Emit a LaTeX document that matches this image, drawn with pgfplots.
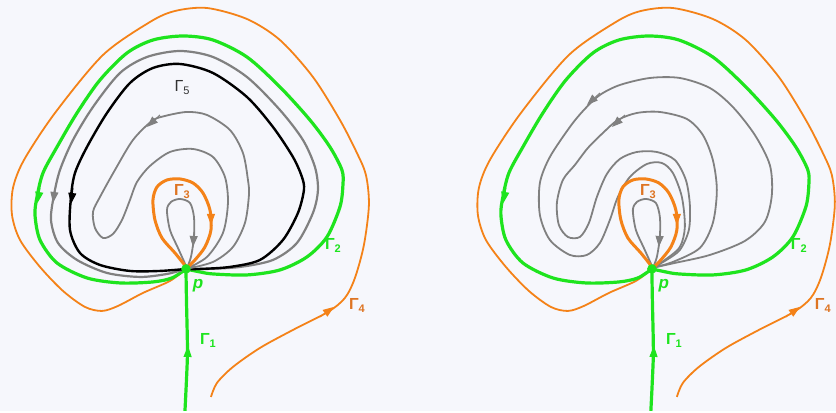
\documentclass[border=0pt]{standalone}
\usepackage{fontspec}
\setmainfont{Liberation Sans}
\usepackage{pgfplots}
\pgfplotsset{compat=1.18}
\usepackage{pgfplotstable}
\usetikzlibrary{arrows.meta}
\definecolor{bg}{RGB}{246,247,252}
\definecolor{gG}{RGB}{30,228,30}
\definecolor{oO}{RGB}{244,130,24}
\definecolor{oL}{RGB}{222,116,34}
\definecolor{gR}{RGB}{128,128,128}
\definecolor{dk}{RGB}{50,50,50}
\newcommand{\lab}[2]{#1\raisebox{-3pt}{\fontsize{11}{11}\selectfont #2}}

% Gamma_2 (green loop)
\pgfplotstableread{
x y
186 269
200 272
213 274
247 275
280 270
307 257
327 237
340 207
343 185
342 170
330 147
310 120
280 87
247 57
213 40
183 36
153 40
127 53
100 80
77 113
57 147
43 173
37 197
35 215
40 240
57 263
87 278
120 283
153 282
172 278
186 269
}\gtwo

% Gamma_4 (thin orange)
\pgfplotstableread{
x y
211 397
217 383
233 367
260 348
293 330
328 312
345 298
355 278
364 245
369 205
366 175
357 153
340 120
313 77
280 40
247 19
207 8
175 11
150 22
103 55
55 113
24 160
13 188
12 215
20 240
40 267
63 291
85 307
102 311
118 306
143 293
170 281
186 269
}\gfour

% Gamma_3 (thick orange)
\pgfplotstableread{
x y
187 268
175 253
162 238
155 220
153 200
157 187
167 180
180 179
193 183
203 193
210 210
211 230
205 247
195 260
187 268
}\gthree

% inner gray loop
\pgfplotstableread{
x y
187 268
178 248
170 230
167 210
171 202
180 199
190 203
194 217
194 237
191 257
187 268
}\ginner

% Gamma_1
\pgfplotstableread{
x y
185 411
186.5 380
187.5 350
186.5 300
186 269
}\gone

\pgfplotstableread{
x y
186 269
207 269
240 267
273 260
297 243
313 213
318 190
315 167
303 140
280 110
247 77
213 57
180 51
147 57
120 73
93 107
73 140
60 170
54 195
51 220
58 243
77 260
107 273
140 277
167 274
186 269
}\gouter

\pgfplotstableread{
x y
186 269
200 269
230 267
260 260
283 240
298 213
304 190
302 177
293 157
273 127
247 97
213 73
180 64
153 68
130 83
107 113
87 147
75 173
71 197
70 230
80 253
100 265
130 271
160 271
186 269
}\gfive

\pgfplotstableread{
x y
186 269
213 262
233 247
245 223
249 195
248 180
243 153
230 130
207 115
187 112
165 116
152 121
133 140
115 170
100 197
93 212
95 228
103 238
113 234
122 220
130 200
137 182
150 166
170 152
193 149
213 157
225 177
228 203
223 233
207 257
186 269
}\gspiral

\pgfplotstableread{
x y
652 268
675 263
710 255
745 241
765 222
772 195
770 165
755 135
733 107
710 88
680 78
650 78
620 85
600 95
584 110
570 127
550 157
540 183
540 215
550 240
570 255
587 255
600 243
610 220
618 197
630 177
647 164
662 163
673 173
682 197
685 227
680 247
665 260
652 268
}\rA

\pgfplotstableread{
x y
652 268
673 262
700 248
713 223
717 190
713 160
703 135
687 119
660 112
637 113
618 120
603 133
588 148
575 165
563 180
557 203
559 225
568 237
580 237
589 223
597 197
607 174
620 159
637 152
657 152
675 160
686 180
690 205
689 230
680 250
665 261
652 268
}\rB

\begin{document}
\begin{tikzpicture}
\begin{axis}[width=836pt,height=411pt,scale only axis,
  xmin=0,xmax=836,ymin=0,ymax=411,y dir=reverse,hide axis,clip=false]
\fill[bg] (axis cs:0,0) rectangle (axis cs:836,411);
\tikzset{tip/.style={-{Triangle[length=11pt,width=8pt]}}}
% ---------- left panel ----------
\addplot[oO,line width=1.8pt,smooth] table[x=x,y=y]{\gfour};
\addplot[gG,line width=3.2pt,smooth] table[x=x,y=y]{\gtwo};
\addplot[gR,line width=2.2pt,smooth] table[x=x,y=y]{\gouter};
\addplot[black,line width=2.4pt,smooth] table[x=x,y=y]{\gfive};
\addplot[gR,line width=1.8pt,smooth] table[x=x,y=y]{\gspiral};
\addplot[gR,line width=1.8pt,smooth] table[x=x,y=y]{\ginner};
\addplot[oO,line width=3pt,smooth] table[x=x,y=y]{\gthree};
\addplot[gG,line width=3.2pt,smooth] table[x=x,y=y]{\gone};
% arrows
\addplot[gG,line width=1pt,tip] coordinates {(40,188) (37.5,203)};
\addplot[gR,line width=1pt,tip] coordinates {(55,188) (53,203)};
\addplot[black,line width=1pt,tip] coordinates {(73,188) (71,204)};
\addplot[gR,line width=1pt,tip] coordinates {(160,115) (147,127)};
\addplot[gR,line width=1pt,tip] coordinates {(194,232) (193,247)};
\addplot[oO,line width=1pt,tip] coordinates {(211,210) (211,225)};
\addplot[oO,line width=1pt,tip] coordinates {(320,317) (334,307)};
\addplot[gG,line width=1pt,tip] coordinates {(187.5,362) (188,346)};
\addplot[gG,only marks,mark=*,mark size=4.5pt] coordinates {(186,269)};
% ---------- right panel ----------
\addplot[oO,line width=1.8pt,smooth] table[x expr=\thisrow{x}+466,y=y]{\gfour};
\addplot[gG,line width=3.2pt,smooth] table[x expr=\thisrow{x}+466,y=y]{\gtwo};
\addplot[gR,line width=1.8pt,smooth] table[x=x,y=y]{\rA};
\addplot[gR,line width=1.8pt,smooth] table[x=x,y=y]{\rB};
\addplot[gR,line width=1.8pt,smooth] table[x expr=\thisrow{x}+466,y=y]{\ginner};
\addplot[oO,line width=3pt,smooth] table[x expr=\thisrow{x}+466,y=y]{\gthree};
\addplot[gG,line width=3.2pt,smooth] table[x expr=\thisrow{x}+466,y=y]{\gone};
\addplot[gG,line width=1pt,tip] coordinates {(506,188) (503.5,203)};
\addplot[gR,line width=1pt,tip] coordinates {(600,93) (587,105)};
\addplot[gR,line width=1pt,tip] coordinates {(625,115) (612,127)};
\addplot[gR,line width=1pt,tip] coordinates {(660,232) (659,247)};
\addplot[oO,line width=1pt,tip] coordinates {(677,210) (677,225)};
\addplot[oO,line width=1pt,tip] coordinates {(786,317) (800,307)};
\addplot[gG,line width=1pt,tip] coordinates {(653.5,362) (654,346)};
\addplot[gG,only marks,mark=*,mark size=4.5pt] coordinates {(652,269)};
% ---------- labels ----------
\tikzset{lb/.style={font=\fontsize{16}{16}\selectfont\bfseries,inner sep=0pt}}
\node[oL,lb] at (axis cs:182,192) {\lab{Γ}{3}};
\node[gG,lb] at (axis cs:333,246) {\lab{Γ}{2}};
\node[gG,lb,font=\fontsize{17}{17}\selectfont\bfseries\itshape] at (axis cs:198,286) {p};
\node[gG,lb] at (axis cs:208,341) {\lab{Γ}{1}};
\node[oL,lb] at (axis cs:357,306) {\lab{Γ}{4}};
\node[oL,lb] at (axis cs:648,192) {\lab{Γ}{3}};
\node[gG,lb] at (axis cs:799,246) {\lab{Γ}{2}};
\node[gG,lb,font=\fontsize{17}{17}\selectfont\bfseries\itshape] at (axis cs:664,286) {p};
\node[gG,lb] at (axis cs:674,341) {\lab{Γ}{1}};
\node[oL,lb] at (axis cs:823,306) {\lab{Γ}{4}};
\node[dk,font=\fontsize{16}{16}\selectfont,inner sep=0pt] at (axis cs:182,88) {\lab{Γ}{5}};
\end{axis}
\end{tikzpicture}
\end{document}
